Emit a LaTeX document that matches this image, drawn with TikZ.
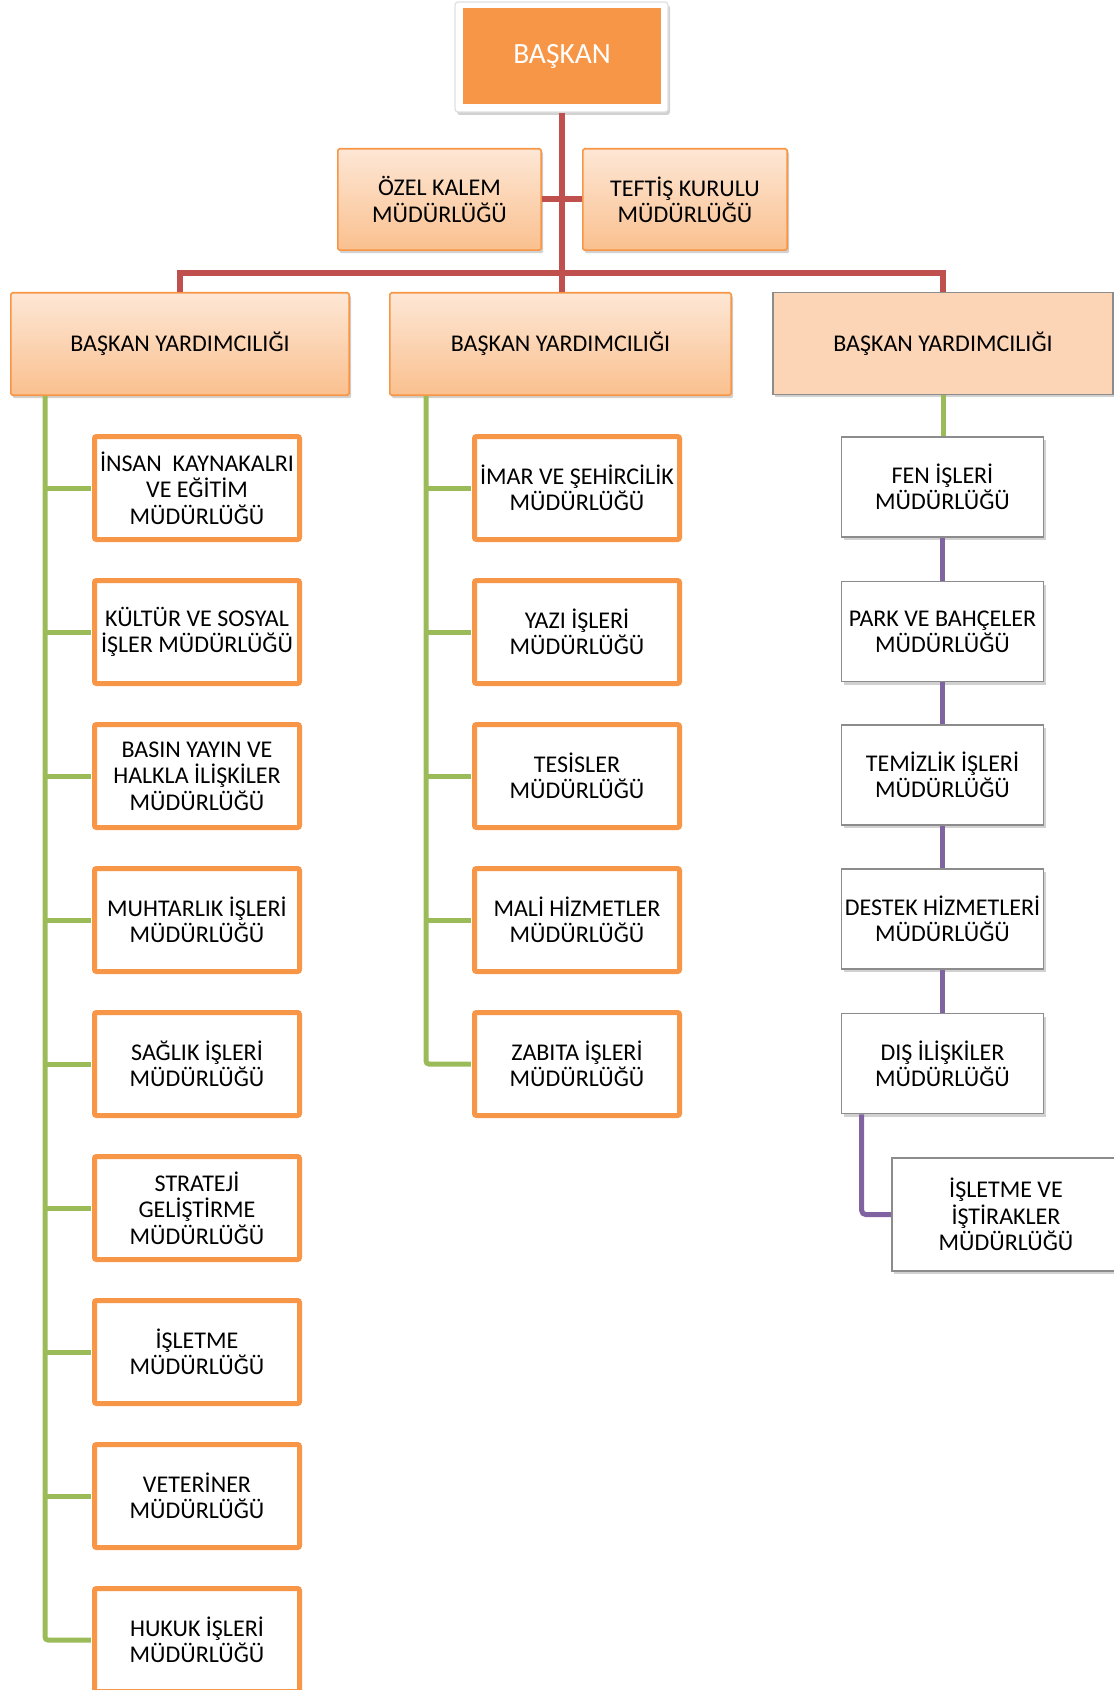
\documentclass[tikz,border=0pt]{standalone}
\usepackage{fontspec}
\setmainfont{Carlito}
\usetikzlibrary{shadows,calc}
\definecolor{orng}{HTML}{F79646}
\definecolor{topc}{HTML}{FDE7D5}
\definecolor{botc}{HTML}{FAC08F}
\definecolor{peach}{HTML}{FBD5B5}
\definecolor{redl}{HTML}{C0504D}
\definecolor{grnl}{HTML}{9BBB59}
\definecolor{purl}{HTML}{8064A2}
\definecolor{grayb}{HTML}{8C8C8C}
\tikzset{
  txt/.style={font=\fontsize{12}{13.2}\selectfont, align=center, text=black, inner sep=0pt},
  shad/.style={drop shadow={opacity=0.3, shadow xshift=1pt, shadow yshift=-1.5pt, fill=black!60}},
  grad/.style={txt, rectangle, draw=orng, line width=0.8pt, top color=topc, bottom color=botc, rounded corners=0.8pt, shad},
  orbox/.style={txt, rectangle, draw=orng, line width=2.5pt, fill=white, rounded corners=1pt, minimum width=102.5pt, minimum height=51.5pt},
  gybox/.style={txt, rectangle, draw=grayb, line width=0.8pt, fill=white, shad, minimum width=101pt, minimum height=50pt},
  redc/.style={draw=redl, line width=3pt},
  grnc/.style={draw=grnl, line width=2.5pt},
  purc/.style={draw=purl, line width=2.5pt},
}
\begin{document}
\begin{tikzpicture}[x=0.5pt,y=-0.5pt]
\useasboundingbox (0,0) rectangle (1113,1690);
% top
\node[rectangle, fill=white, draw=black!12, line width=0.6pt, rounded corners=1.5pt, shad, minimum width=106.5pt, minimum height=55pt] (bframe) at (561.5,57) {};
\node[rectangle, fill=orng, text=white, font=\fontsize{14.7}{16}\selectfont, minimum width=99pt, minimum height=48pt, inner sep=0pt] (baskan) at (562,56) {\raisebox{-1.5pt}{BAŞKAN}};
\node[grad, minimum width=101.7pt, minimum height=50.7pt] (ozel) at (439.5,199.5) {ÖZEL KALEM\\MÜDÜRLÜĞÜ};
\node[grad, minimum width=102.2pt, minimum height=50.7pt] (teftis) at (685,199.5) {TEFTİŞ KURULU\\MÜDÜRLÜĞÜ};
% deputies
\node[grad, minimum width=169.2pt, minimum height=51.2pt] (by1) at (180,344) {BAŞKAN YARDIMCILIĞI};
\node[grad, minimum width=170.7pt, minimum height=51.2pt] (by2) at (560.5,344) {BAŞKAN YARDIMCILIĞI};
\node[txt, rectangle, draw=grayb, line width=0.8pt, fill=peach, shad, minimum width=170.2pt, minimum height=50.8pt] (by3) at (943,343.5) {BAŞKAN YARDIMCILIĞI};
% red connectors
\draw[redc] (bframe.south) -- (bframe.south |- by2.north);
\draw[redc] (by1.north) -- ++(0,-19) -| (by3.north);
\draw[redc] (ozel.east) -- (teftis.west);
% left column
\node[orbox] (l1) at (197,488) {İNSAN\ \ KAYNAKALRI\\VE EĞİTİM\\MÜDÜRLÜĞÜ};
\node[orbox] (l2) at (197,632) {KÜLTÜR VE SOSYAL\\İŞLER MÜDÜRLÜĞÜ};
\node[orbox] (l3) at (197,776) {BASIN YAYIN VE\\HALKLA İLİŞKİLER\\MÜDÜRLÜĞÜ};
\node[orbox] (l4) at (197,920) {MUHTARLIK İŞLERİ\\MÜDÜRLÜĞÜ};
\node[orbox] (l5) at (197,1064) {SAĞLIK İŞLERİ\\MÜDÜRLÜĞÜ};
\node[orbox] (l6) at (197,1208) {STRATEJİ\\GELİŞTİRME\\MÜDÜRLÜĞÜ};
\node[orbox] (l7) at (197,1352) {İŞLETME\\MÜDÜRLÜĞÜ};
\node[orbox] (l8) at (197,1496) {VETERİNER\\MÜDÜRLÜĞÜ};
\node[orbox] (l9) at (197,1640) {HUKUK İŞLERİ\\MÜDÜRLÜĞÜ};
% middle column
\node[orbox] (m1) at (577,488) {İMAR VE ŞEHİRCİLİK\\MÜDÜRLÜĞÜ};
\node[orbox] (m2) at (577,632) {YAZI İŞLERİ\\MÜDÜRLÜĞÜ};
\node[orbox] (m3) at (577,776) {TESİSLER\\MÜDÜRLÜĞÜ};
\node[orbox] (m4) at (577,920) {MALİ HİZMETLER\\MÜDÜRLÜĞÜ};
\node[orbox] (m5) at (577,1064) {ZABITA İŞLERİ\\MÜDÜRLÜĞÜ};
% right column
\node[gybox] (r1) at (942.5,487) {FEN İŞLERİ\\MÜDÜRLÜĞÜ};
\node[gybox] (r2) at (942.5,631.5) {PARK VE BAHÇELER\\MÜDÜRLÜĞÜ};
\node[gybox] (r3) at (942.5,775) {TEMİZLİK İŞLERİ\\MÜDÜRLÜĞÜ};
\node[gybox] (r4) at (942.5,919) {DESTEK HİZMETLERİ\\MÜDÜRLÜĞÜ};
\node[gybox] (r5) at (942.5,1063.5) {DIŞ İLİŞKİLER\\MÜDÜRLÜĞÜ};
\node[gybox, minimum width=114pt, minimum height=56.7pt] (r6) at (1006,1214.5) {İŞLETME VE\\İŞTİRAKLER\\MÜDÜRLÜĞÜ};
% green connectors left
\coordinate (lt) at ($(by1.south west)+(35,0)$);
\draw[grnc, rounded corners=1.5pt] (lt) |- ($(l9.west)+(-1.25,0)$);
\foreach \i in {1,...,8} { \draw[grnc] (lt |- l\i.west) -- ($(l\i.west)+(-1.25,0)$); }
% green connectors middle
\coordinate (mt) at ($(by2.south west)+(37,0)$);
\draw[grnc, rounded corners=1.5pt] (mt) |- ($(m5.west)+(-1.25,0)$);
\foreach \i in {1,...,4} { \draw[grnc] (mt |- m\i.west) -- ($(m\i.west)+(-1.25,0)$); }
% right connectors
\draw[grnc] (by3.south) -- (by3.south |- r1.north);
\draw[purc] (r1.south) -- (r2.north);
\draw[purc] (r2.south) -- (r3.north);
\draw[purc] (r3.south) -- (r4.north);
\draw[purc] (r4.south) -- (r5.north);
\draw[purc, rounded corners=2pt] ($(r5.south west)+(21,0)$) |- (r6.west);
\end{tikzpicture}
\end{document}
